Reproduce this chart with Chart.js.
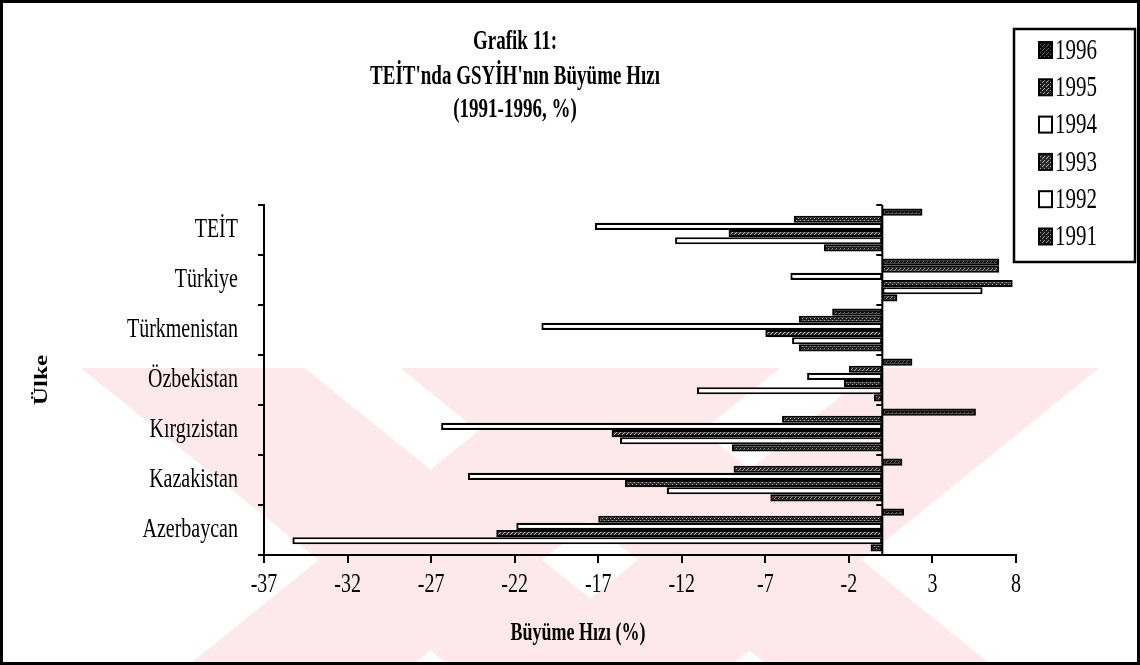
<!DOCTYPE html>
<html>
<head>
<meta charset="utf-8">
<script src="https://cdn.jsdelivr.net/npm/chart.js@4.4.0/dist/chart.umd.min.js"></script>
<style>
  html, body { margin: 0; padding: 0; background: #fff; }
  #wrap { width: 1140px; height: 665px; }
</style>
</head>
<body>
<div id="wrap"><canvas id="chart" width="1140" height="665"></canvas></div>
<script>
// values (growth %, one array per year)
const countries = ["TEİT", "Türkiye", "Türkmenistan", "Özbekistan", "Kırgızistan", "Kazakistan", "Azerbaycan"];
const years = ["1996", "1995", "1994", "1993", "1992", "1991"];
const g1996 = [2.4, 7.0, -3.0, 1.8, 5.6, 1.2, 1.3];
const g1995 = [-5.3, 7.0, -5.0, -2.0, -6.0, -8.9, -17.0];
const g1994 = [-17.2, -5.5, -20.4, -4.5, -26.4, -24.8, -21.9];
const g1993 = [-9.2, 7.8, -7.0, -2.3, -16.2, -15.4, -23.1];
const g1992 = [-12.4, 6.0, -5.4, -11.1, -15.7, -12.9, -35.3];
const g1991 = [-3.5, 0.9, -5.0, -0.5, -9.0, -6.7, -0.7];
const xTicks = [-37, -32, -27, -22, -17, -12, -7, -2, 3, 8];

const serif = "'Liberation Serif', 'Times New Roman', serif";

function speckle(base, dot) {
    const c = document.createElement("canvas");
    c.width = 4; c.height = 4;
    const x = c.getContext("2d");
    x.fillStyle = base;
    x.fillRect(0, 0, 4, 4);
    x.fillStyle = dot;
    x.fillRect(0, 0, 1, 1);
    x.fillRect(2, 2, 1, 1);
    x.fillRect(3, 1, 1, 1);
    return x.createPattern(c, "repeat");
}

const fills = [
    speckle("#0d0d0d", "#666"),
    speckle("#1e1e1e", "#aaa"),
    "#ffffff",
    speckle("#2a2a2a", "#b5b5b5"),
    "#ffffff",
    speckle("#1a1a1a", "#999")
];
const series = [g1996, g1995, g1994, g1993, g1992, g1991];

// the scan is taller than it is wide, so text gets a vertical stretch
const STRETCH = 1.4;
function tallText(c, txt, x, y, sy) {
    c.save();
    c.translate(x, y);
    c.scale(1, sy);
    c.fillText(txt, 0, 0);
    c.restore();
}

const decor = {
    id: "decor",
    beforeDraw(chart) {
        const c = chart.ctx;
        c.save();
        c.fillStyle = "#fff";
        c.fillRect(0, 0, chart.width, chart.height);
        // faint watermark X behind the plot
        c.beginPath();
        c.rect(0, 368, chart.width, chart.height - 368);
        c.clip();
        c.fillStyle = "#fde8eb";
        const cx = 590, cy = 560;
        [[0.78, 0.63], [0.78, -0.63]].forEach(([dx, dy]) => {
            const nx = -dy, ny = dx;
            [[-170, -30], [30, 170]].forEach(([o1, o2]) => {
                const L = 900;
                c.beginPath();
                c.moveTo(cx - dx * L + nx * o1, cy - dy * L + ny * o1);
                c.lineTo(cx + dx * L + nx * o1, cy + dy * L + ny * o1);
                c.lineTo(cx + dx * L + nx * o2, cy + dy * L + ny * o2);
                c.lineTo(cx - dx * L + nx * o2, cy - dy * L + ny * o2);
                c.closePath();
                c.fill();
            });
        });
        c.restore();
    },
    afterDatasetsDraw(chart) {
        const c = chart.ctx;
        const xs = chart.scales.x, ys = chart.scales.y;
        const x0 = xs.getPixelForValue(0);
        c.save();
        c.strokeStyle = "#000";
        c.lineWidth = 2;
        c.beginPath();
        c.moveTo(x0, ys.top);
        c.lineTo(x0, ys.bottom);
        const band = (ys.bottom - ys.top) / countries.length;
        for (let i = 0; i <= countries.length; i++) {
            const y = ys.top + i * band;
            c.moveTo(x0 - 6, y);
            c.lineTo(x0, y);
        }
        c.stroke();
        c.restore();
    },
    afterDraw(chart) {
        const c = chart.ctx;
        const xs = chart.scales.x, ys = chart.scales.y;
        c.save();
        c.fillStyle = "#000";
        c.strokeStyle = "#000";
        c.textBaseline = "middle";
        // tick labels, placed by the scales
        c.font = "20px " + serif;
        c.textAlign = "right";
        countries.forEach((name, i) => tallText(c, name, 238, ys.getPixelForValue(i), STRETCH));
        c.textAlign = "center";
        xTicks.forEach(v => tallText(c, String(v), xs.getPixelForValue(v), 585, STRETCH));
        // title
        c.font = "bold 19px " + serif;
        tallText(c, "Grafik 11:", 515, 42, STRETCH);
        tallText(c, "TEİT'nda GSYİH'nın Büyüme Hızı", 515, 77, STRETCH);
        tallText(c, "(1991-1996, %)", 515, 110, STRETCH);
        // axis titles
        c.font = "bold 18px " + serif;
        tallText(c, "Büyüme Hızı (%)", 578, 633, STRETCH);
        c.save();
        c.translate(42, 380);
        c.rotate(-Math.PI / 2);
        c.scale(STRETCH, 1);
        c.fillText("Ülke", 0, 0);
        c.restore();
        // legend
        c.lineWidth = 2.5;
        c.strokeRect(1014, 29, 121, 233);
        c.font = "21px " + serif;
        c.textAlign = "left";
        chart.data.datasets.forEach((ds, i) => {
            const y = 50 + i * 37.3;
            c.fillStyle = ds.backgroundColor;
            c.fillRect(1039, y - 8, 13, 16);
            c.lineWidth = 2;
            c.strokeRect(1039, y - 8, 13, 16);
            c.fillStyle = "#000";
            tallText(c, ds.label, 1055, y + 1, STRETCH);
        });
        // outer frame
        c.lineWidth = 3;
        c.strokeRect(1.5, 1.5, chart.width - 3, chart.height - 3);
        c.restore();
    }
};

new Chart(document.getElementById("chart").getContext("2d"), {
    type: "bar",
    data: {
        labels: countries,
        datasets: years.map((yr, i) => ({
            label: yr,
            data: series[i],
            backgroundColor: fills[i],
            borderColor: "#000",
            borderWidth: 2.2,
            borderSkipped: false,
            categoryPercentage: 0.86,
            barPercentage: 1.0
        }))
    },
    options: {
        indexAxis: "y",
        responsive: false,
        animation: false,
        layout: { padding: { top: 205, right: 124, bottom: 0, left: 0 } },
        plugins: {
            legend: { display: false },
            title: { display: false },
            tooltip: { enabled: false }
        },
        scales: {
            x: {
                min: -37,
                max: 8,
                afterBuildTicks: (s) => { s.ticks = xTicks.map(v => ({ value: v })); },
                afterFit: (s) => { s.height = 110; },
                grid: { drawOnChartArea: false, drawTicks: true, tickLength: 8, color: "#000", lineWidth: 2 },
                border: { color: "#000", width: 2 },
                ticks: { display: false }
            },
            y: {
                afterFit: (s) => { s.width = 264; },
                grid: { offset: true, drawOnChartArea: false, drawTicks: true, tickLength: 6, color: "#000", lineWidth: 2 },
                border: { color: "#000", width: 2 },
                ticks: { display: false }
            }
        }
    },
    plugins: [decor]
});
</script>
</body>
</html>
